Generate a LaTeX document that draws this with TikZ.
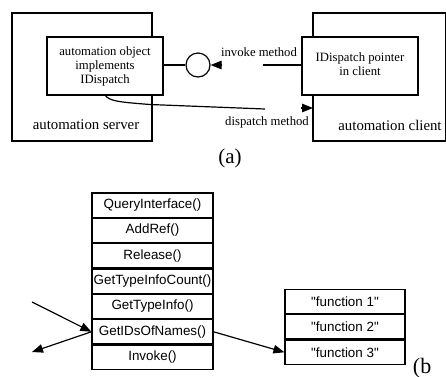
\documentclass[tikz,border=0pt]{standalone}
\usepackage{fontspec}
\setmainfont{Liberation Serif}
\newfontfamily\arialfont{Liberation Sans}
\usetikzlibrary{arrows.meta,positioning}
\begin{document}
\begin{tikzpicture}[x=1pt,y=-1pt,
  line width=1.2pt,
  frame/.style={draw,rectangle,inner sep=0pt},
  boxtext/.style={font=\fontsize{12.7}{14}\selectfont,align=center},
  bigtext/.style={font=\fontsize{14.8}{17}\selectfont},
  cell/.style={draw,rectangle,minimum width=121pt,minimum height=24.14pt,inner sep=0pt,
    font=\arialfont\fontsize{13.4}{15}\selectfont},
  fcell/.style={cell,minimum width=120pt},
  tip/.style={-{Triangle[length=11pt,width=8.5pt]}}]
\useasboundingbox (0,0) rectangle (446,376);

% ---- (a): automation server and client ----
\draw (12,13) rectangle (152,141);
\draw (313,13) rectangle (445.5,141);
\node[frame,fill=white,minimum width=116pt,minimum height=58pt] (obj) at (105,66) {};
\node[boxtext] (objtext) at (105,66) {automation object\\implements\\IDispatch};
\node[frame,fill=white,minimum width=116pt,minimum height=58pt] (ptr) at (360,66) {};
\node[boxtext] (ptrtext) at (360,64.5) {IDispatch pointer\\in client};
\node[bigtext] (srv) at (86,125) {automation server};
\node[bigtext] (cli) at (390,125) {automation client};

% interface lollipop and invoke call
\node[draw,circle,minimum size=24pt,inner sep=0pt] (lolli) at (198,65) {};
\draw (obj.east |- lolli) -- (lolli.west);
\coordinate (invtail) at (222,65);
\draw[tip] (invtail) -- (lolli.east);
\coordinate (invstart) at (263,65);
\draw (invstart) -- (ptr.west |- invstart);
\node[boxtext] (invlabel) at (259,52) {invoke method};

% dispatch path
\coordinate (dispA) at (105,95);
\coordinate (dispB) at (265,109);
\draw (dispA) .. controls (109,101) and (118,102) .. (150,104.5) -- (dispB);
\coordinate (disptail) at (301,108);
\coordinate (disphead) at (313,108);
\draw[tip] (disptail) -- (disphead);
\node[boxtext] (displabel) at (267,122) {dispatch method};

\node[font=\fontsize{21}{24}\selectfont] (capa) at (230,158) {(a)};

% ---- (b): IDispatch vtable ----
\node[cell] (qi)  at (152.5,205.07) {QueryInterface()};
\node[cell,below=0pt of qi] (ar)  {AddRef()};
\node[cell,below=0pt of ar] (rel) {Release()};
\node[cell,below=0pt of rel] (gtic) {GetTypeInfoCount()};
\node[cell,below=0pt of gtic] (gti) {GetTypeInfo()};
\node[cell,below=0pt of gti] (gid) {GetIDsOfNames()};
\node[cell,below=0pt of gid] (inv) {Invoke()};

\node[fcell] (f1) at (345,301.6) {"function 1"};
\node[fcell,below=0pt of f1] (f2) {"function 2"};
\node[fcell,below=0pt of f2] (f3) {"function 3"};

\coordinate (inA) at (32,302);
\coordinate (outB) at (32,352);
\draw[tip] (inA) -- (gid.west);
\draw[tip] (gid.west) -- (outB);
\draw[tip] (gid.east) -- (f3.west);

\node[font=\fontsize{22}{26}\selectfont,anchor=west] (capb) at (409,368) {(b};
\end{tikzpicture}
\end{document}
